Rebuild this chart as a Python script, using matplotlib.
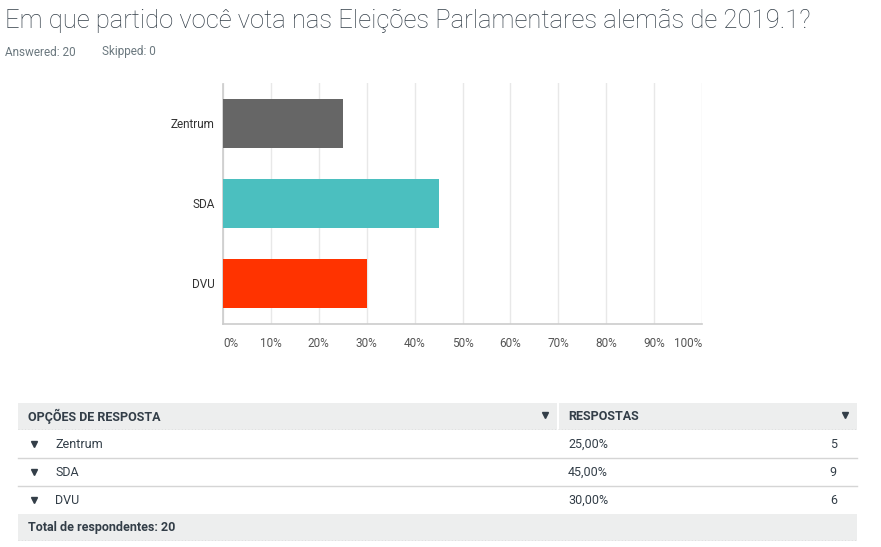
import matplotlib.pyplot as plt
from matplotlib.patches import Rectangle

plt.rcParams['font.family'] = ['Roboto', 'DejaVu Sans']

# dados
partidos = ['Zentrum', 'SDA', 'DVU']
percentuais = [25, 45, 30]
respostas = [5, 9, 6]
cores = ['#666666', '#4BBFBF', '#FF3300']
ticks = [0, 10, 20, 30, 40, 50, 60, 70, 80, 90, 100]
titulo = 'Em que partido você vota nas Eleições Parlamentares alemãs de 2019.1?'
respondidas, puladas = 20, 0

W, H = 881, 547
fig = plt.figure(figsize=(W / 100, H / 100), dpi=100)

# grafico de barras
ax = fig.add_axes([223 / W, 1 - 323.5 / H, (702 - 223) / W, 240 / H])
y = list(range(len(partidos)))
ax.barh(y, percentuais, height=0.61, color=cores, zorder=3)
ax.set_ylim(len(partidos) - 0.5, -0.5)
ax.set_xlim(0, 100)
ax.set_xticks(ticks)
ax.set_xticklabels([f'{t}%' for t in ticks])
for i, lab in enumerate(ax.get_xticklabels()):
    if i == 0:
        lab.set_ha('left')
    elif i == len(ticks) - 1:
        lab.set_ha('right')
ax.set_yticks(y)
ax.set_yticklabels(partidos)
ax.tick_params(axis='x', length=0, pad=10, labelsize=8.5, labelcolor='#555555')
ax.tick_params(axis='y', length=0, pad=6, labelsize=8.5, labelcolor='#333333')
ax.grid(axis='x', color='#e8e8e8', lw=1, zorder=0)
for s in ['top', 'right']:
    ax.spines[s].set_visible(False)
for s in ['left', 'bottom']:
    ax.spines[s].set_color('#cccccc')
    ax.spines[s].set_linewidth(1.2)

# camada em pixels para titulo e tabela
ov = fig.add_axes([0, 0, 1, 1], zorder=-1)
ov.set_xlim(0, W)
ov.set_ylim(H, 0)
ov.axis('off')

t = ov.text(5, 21, titulo, fontsize=20, fontweight='light', color='#333e48',
            va='center', ha='left')
fig.canvas.draw()
bb = t.get_window_extent()
t.set_fontsize(20 * 806 / bb.width)

ov.text(5, 52, f'Answered: {respondidas}', fontsize=8.5, color='#6b787f', va='center')
ov.text(102, 52, f'Skipped: {puladas}', fontsize=8.5, color='#6b787f', va='center')

# tabela
cinza = '#edeeee'
fs = 9
ov.add_patch(Rectangle((18, 403), 857 - 18, 27, color=cinza, lw=0))
ov.plot([558, 558], [403, 430], color='white', lw=1.5)
ov.text(28, 416.5, 'OPÇÕES DE RESPOSTA', fontsize=fs, fontweight='bold',
        color='#333e48', va='center')
ov.text(568, 416.5, 'RESPOSTAS', fontsize=fs, fontweight='bold',
        color='#333e48', va='center')
ov.plot([545, 845], [415, 415], ls='none', marker='v', ms=4, color='#333e48')
ov.plot([18, 857], [429, 429], color='#d9dada', lw=0.6, ls=(0, (1, 3)))

linhas_y = [444, 472, 500]
for i, (p, pc, n) in enumerate(zip(partidos, percentuais, respostas)):
    yy = linhas_y[i]
    ov.plot([34], [yy], ls='none', marker='v', ms=4, color='#333e48')
    ov.text(55, yy, p, fontsize=fs, color='#333e48', va='center')
    ov.text(568, yy, f'{pc:.2f}%'.replace('.', ','), fontsize=fs,
            color='#333e48', va='center')
    ov.text(837, yy, str(n), fontsize=fs, color='#333e48', va='center', ha='right')
    if i < len(partidos) - 1:
        ov.plot([18, 857], [yy + 14, yy + 14], color='#d5d5d5', lw=1)

ov.add_patch(Rectangle((18, 514), 857 - 18, 27, color=cinza, lw=0))
ov.text(28, 527, f'Total de respondentes: {respondidas}', fontsize=fs,
        fontweight='bold', color='#333e48', va='center')
ov.plot([18, 857], [540, 540], color='#d9dada', lw=0.6, ls=(0, (1, 3)))

fig.savefig('out.png', dpi=100)
